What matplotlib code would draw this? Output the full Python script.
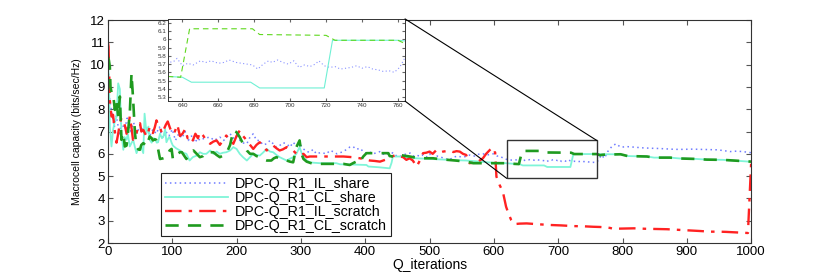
import numpy as np
import matplotlib
matplotlib.use('Agg')
from matplotlib import pyplot as plt
from matplotlib.patches import Rectangle, ConnectionPatch
from matplotlib.ticker import FormatStrFormatter

plt.rcParams['font.family'] = ['Liberation Sans', 'DejaVu Sans']

labels = ['DPC-Q_R1_IL_share', 'DPC-Q_R1_CL_share',
          'DPC-Q_R1_IL_scratch', 'DPC-Q_R1_CL_scratch']

# IL_share (azul punteado)
il_share_x = [0, 1.5, 5, 10, 13, 18, 21, 26, 30, 35, 40, 45, 50, 55, 60, 65, 70, 75, 80, 85,
              90, 95, 100, 105, 110, 115, 120, 125, 130, 135, 140, 143, 150, 159, 165, 174, 180,
              190, 195, 200, 208, 216, 220, 226, 231, 236, 241, 247, 252, 257, 262, 267, 272,
              278, 283, 288, 293, 298, 304, 309, 314, 319, 324, 330, 335, 340, 345, 350, 356,
              361, 366, 371, 376, 381, 386, 392, 397, 402, 407, 412, 418, 423, 428, 433, 438,
              443, 449, 454, 460, 465, 470, 475, 480, 485, 490, 495, 500, 506, 512, 518, 524,
              531, 537, 544, 550, 557, 563, 570, 576, 583, 590, 599, 605, 609, 615, 620, 625,
              632, 635, 637, 640, 643, 646, 650, 653, 656, 660, 663, 666, 670, 673, 676, 679,
              682, 685, 688, 690, 693, 696, 699, 702, 705, 708, 711, 714, 716, 719, 722, 725,
              728, 731, 734, 737, 740, 743, 746, 749, 752, 755, 758, 761, 764, 767, 772, 777,
              784, 790, 797, 808, 818, 830, 844, 856, 869, 882, 895, 908, 920, 933, 946, 956,
              967, 977, 987, 997, 1000]
il_share_y = [12.0, 8.7, 8.0, 7.2, 7.7, 6.9, 7.4, 7.1, 7.6, 7.0, 7.4, 6.9, 7.3, 7.0, 7.2, 6.8,
              7.1, 6.9, 7.2, 6.7, 7.0, 6.8, 7.1, 6.6, 6.9, 6.7, 7.0, 6.6, 6.8, 6.5, 6.7, 6.6,
              6.7, 6.75, 6.6, 6.75, 6.6, 6.9, 6.7, 6.82, 6.5, 6.45, 6.7, 6.9, 6.6, 6.6, 6.4,
              6.45, 6.6, 6.45, 6.3, 6.37, 6.5, 6.45, 6.3, 6.52, 6.35, 6.45, 6.22, 6.1, 6.07,
              6.2, 6.0, 6.05, 6.03, 6.0, 6.15, 6.1, 6.0, 6.05, 6.1, 6.2, 6.3, 6.33, 6.2, 6.25,
              6.1, 6.03, 6.08, 6.0, 6.05, 6.1, 5.98, 6.0, 5.95, 6.05, 5.9, 5.88, 5.95, 6.02,
              6.03, 5.9, 5.95, 5.88, 5.95, 5.85, 6.0, 5.8, 5.9, 5.85, 5.78, 5.73, 5.85, 5.9,
              5.85, 5.88, 5.95, 5.9, 5.98, 6.0, 5.95, 6.0, 5.9, 5.9, 5.8, 5.75, 5.72,
              5.72, 5.73, 5.77, 5.68, 5.71, 5.69, 5.74, 5.72, 5.74, 5.71, 5.72, 5.75, 5.72,
              5.71, 5.70, 5.69, 5.64, 5.70, 5.74, 5.72, 5.75, 5.72, 5.70, 5.74, 5.66, 5.69,
              5.67, 5.70, 5.74, 5.68, 5.66, 5.67, 5.64, 5.65, 5.66, 5.68, 5.65, 5.67, 5.64,
              5.63, 5.61, 5.62, 5.60, 5.66, 5.78, 5.95, 5.8, 6.1, 6.35, 6.45, 6.3, 6.32, 6.3,
              6.27, 6.25, 6.24, 6.22, 6.2, 6.2, 6.21, 6.2, 6.19, 6.18, 6.15, 6.1, 6.12, 6.1,
              6.06, 6.05]

# CL_share (cian continuo)
cl_share_x = [0, 1.5, 3, 5.6, 8, 11, 13.4, 16, 18.6, 21, 24, 26, 29, 31, 34, 37, 39.3, 42, 44.5,
              47, 49.7, 52, 55, 57, 60, 63, 65, 68, 71, 73, 76, 78, 81, 84, 86, 89, 91, 94, 96,
              99, 101, 106, 112, 117, 122, 127, 132, 138, 143, 148, 153, 159, 164, 169, 174,
              179, 184, 190, 195, 200, 205, 210, 216, 221, 226, 231, 236, 241, 247, 252, 257,
              262, 267, 272, 278, 283, 288, 293, 298, 301, 304, 309, 314, 320, 330, 345, 355,
              361, 380, 402, 405, 420, 438, 441, 443, 453, 465, 479, 495, 516, 537, 557, 578,
              599, 619, 632, 640, 645, 678, 683, 719, 723.6, 760, 765, 797, 808, 838, 849, 874,
              890, 915, 931, 956, 972, 997, 1000]
cl_share_y = [9.9, 9.45, 7.22, 6.33, 7.07, 7.5, 7.65, 9.16, 8.9, 6.93, 6.18, 6.75, 6.63, 6.9,
              6.33, 6.5, 6.63, 6.3, 6.03, 6.22, 6.18, 6.3, 6.03, 7.8, 6.93, 7.22, 6.63, 6.5,
              6.7, 6.67, 6.5, 6.52, 6.9, 6.7, 6.75, 7.1, 6.52, 6.7, 6.75, 6.5, 6.37, 6.25,
              6.15, 6.05, 6.0, 5.7, 5.85, 5.92, 6.07, 6.0, 6.0, 6.15, 6.0, 6.1, 6.0, 6.05,
              6.07, 6.15, 6.3, 6.22, 6.0, 5.85, 5.7, 5.85, 6.0, 5.95, 5.92, 6.05, 6.22, 6.1,
              6.07, 5.95, 5.85, 5.78, 5.7, 5.78, 5.85, 6.0, 6.3, 6.05, 5.85, 5.7, 5.62, 5.6,
              5.58, 5.58, 5.58, 5.53, 5.52, 5.5, 5.43, 5.4, 5.35, 5.6, 5.88, 5.88, 5.84, 5.8,
              5.78, 5.75, 5.72, 5.7, 5.65, 5.6, 5.58, 5.55, 5.54, 5.48, 5.48, 5.41, 5.41, 5.99,
              5.99, 5.98, 5.98, 5.9, 5.88, 5.83, 5.83, 5.79, 5.77, 5.74, 5.73, 5.7, 5.65, 5.65]

# IL_scratch (rojo raya-punto)
il_scratch_x = [0, 1, 3, 5.6, 8, 10.8, 13.4, 16, 18.6, 21, 24, 27, 29, 32, 34, 37, 39, 42, 44.5,
                47, 50, 52, 55, 58, 60, 63, 65, 68, 70, 73, 75.5, 78, 81, 84, 87, 90, 93, 96,
                100, 104, 108, 112, 116, 120, 124, 128, 132, 136, 140, 143, 148, 153, 159, 164,
                169, 174, 179, 184, 190, 195, 200, 205, 210, 216, 221, 226, 231, 236, 241, 247,
                252, 257, 262, 267, 272, 278, 283, 288, 293, 298, 304, 309, 314, 320, 330, 345,
                355, 366, 380, 392, 400, 407, 415, 423, 430, 438, 443, 449, 454, 459, 464, 469,
                474, 480, 485, 490, 495, 500, 505, 510, 516, 521, 526, 531, 537, 542, 547, 552,
                557, 562, 568, 573, 578, 583, 588, 594, 597, 599, 602, 604, 609, 614, 619, 623,
                627, 632, 640, 651, 670, 687, 705, 723, 740, 754, 765, 775, 780, 786, 800, 818,
                835, 849, 869, 882, 895, 908, 920, 936, 950, 961, 975, 987, 995, 1000]
il_scratch_y = [11.0, 10.8, 8.4, 7.67, 7.75, 7.0, 6.5, 6.9, 7.37, 7.6, 7.5, 7.2, 6.9, 7.3, 7.67,
                7.1, 6.63, 6.8, 6.93, 7.2, 7.37, 7.0, 7.07, 6.9, 6.78, 7.0, 7.2, 7.0, 6.93, 7.2,
                7.5, 7.3, 7.2, 6.9, 7.1, 7.3, 7.45, 7.2, 6.9, 7.0, 7.3, 6.8, 6.9, 7.1, 6.7, 6.8,
                6.6, 6.9, 6.7, 6.97, 6.82, 6.6, 6.45, 6.55, 6.6, 6.4, 6.6, 6.82, 6.6, 6.45, 6.8,
                7.05, 6.8, 6.6, 6.4, 6.22, 6.4, 6.52, 6.35, 6.15, 6.3, 6.37, 6.25, 6.15, 6.2,
                6.3, 6.2, 6.15, 6.0, 5.92, 6.0, 5.85, 5.88, 5.88, 5.88, 5.88, 5.88, 5.88, 5.85,
                5.8, 5.75, 5.7, 5.68, 5.65, 5.72, 5.8, 5.9, 5.95, 5.88, 5.85, 5.73, 5.8, 5.7,
                5.43, 5.7, 6.03, 6.05, 6.1, 6.0, 6.15, 6.05, 6.1, 6.12, 6.15, 6.08, 6.12, 6.1,
                6.0, 5.95, 5.58, 5.6, 5.58, 5.7, 5.8, 6.0, 6.18, 6.25, 6.05, 6.07, 4.98, 4.6,
                4.3, 3.63, 3.3, 3.03, 2.85, 2.87, 2.88, 2.84, 2.81, 2.79, 2.76, 2.75, 2.73, 2.72,
                2.7, 2.68, 2.64, 2.65, 2.66, 2.64, 2.63, 2.62, 2.6, 2.58, 2.56, 2.54, 2.51, 2.51,
                2.5, 2.48, 2.46, 2.45, 5.6]

# CL_scratch (verde discontinuo)
cl_scratch_x = [0, 1.5, 3, 4, 6, 8, 10.8, 13.4, 16, 18.6, 21, 24, 26.3, 29, 31, 34, 36.7, 39.3,
                42, 44.5, 47, 49.7, 52, 55, 58, 60, 63, 65, 68, 70, 73, 75, 78, 81, 86, 91, 96,
                99, 101, 104, 108, 112, 115, 119, 122, 127, 133, 138, 143, 148, 153, 159, 164,
                169, 174, 179, 184, 190, 195, 200, 205, 210, 216, 221, 226, 231, 236, 241, 247,
                254, 258, 262, 267, 272, 278, 283, 288, 293, 298, 301, 304, 309, 314, 319, 330,
                345, 355, 366, 376, 381, 386, 389, 392, 397, 402, 410, 420, 430, 436, 438, 443,
                453, 469, 484, 505, 520, 540, 557, 568, 585, 600, 619, 632, 639, 644, 679, 683,
                720, 725, 760, 765, 770, 797, 808, 838, 849, 874, 890, 915, 931, 956, 972, 997,
                1000]
cl_scratch_y = [10.35, 10.2, 9.9, 9.0, 8.7, 8.7, 7.97, 8.4, 7.67, 8.57, 6.63, 6.93, 6.33, 6.37,
                6.9, 7.8, 9.6, 8.4, 6.93, 6.33, 6.2, 6.18, 6.4, 6.48, 6.4, 6.33, 6.6, 6.78, 6.7,
                6.6, 6.65, 6.63, 6.22, 5.77, 5.8, 5.85, 6.15, 6.22, 5.77, 5.8, 6.0, 6.07, 6.07,
                5.9, 5.77, 6.0, 6.15, 6.0, 5.85, 5.9, 6.07, 6.07, 6.07, 5.95, 5.85, 5.92, 6.0,
                6.4, 7.05, 6.97, 6.75, 6.45, 6.15, 6.0, 6.0, 5.9, 5.85, 5.75, 5.7, 5.7, 5.8,
                5.85, 5.78, 5.72, 5.7, 5.65, 5.62, 6.3, 6.6, 6.0, 5.77, 5.65, 5.6, 5.55, 5.55,
                5.55, 5.55, 5.55, 5.5, 5.58, 5.65, 5.73, 5.65, 5.88, 6.03, 6.03, 6.03, 6.03,
                6.03, 5.9, 5.88, 5.95, 5.88, 5.8, 5.8, 5.75, 5.7, 5.65, 5.58, 5.58, 5.58, 5.58,
                5.55, 5.54, 6.13, 6.13, 6.06, 6.05, 5.99, 5.99, 5.94, 5.96, 5.98, 5.9, 5.88,
                5.83, 5.83, 5.79, 5.77, 5.74, 5.73, 5.7, 5.65, 5.65]

# Zona ampliada
zoom_x0, zoom_x1 = 620, 760
zoom_y0, zoom_y1 = 4.9, 6.6

fig = plt.figure(figsize=(8.3, 2.74), dpi=100)
ax = fig.add_axes([0.130, 0.113, 0.775, 0.814])

estilos = [
    dict(color='#6f7cff', linestyle=(0, (1, 2.2)), linewidth=1.1),
    dict(color='#7ff5d8', linestyle='-', linewidth=1.3),
    dict(color='#ff2222', linestyle=(0, (7, 3, 1.5, 3)), linewidth=1.7),
    dict(color='#1f9a1f', linestyle=(0, (5, 3.5)), linewidth=1.9),
]
series = [(il_share_x, il_share_y), (cl_share_x, cl_share_y),
          (il_scratch_x, il_scratch_y), (cl_scratch_x, cl_scratch_y)]

for (x, y), est, lab in zip(series, estilos, labels):
    ax.plot(x, y, label=lab, **est)

ax.set_xlim(0, 1000)
ax.set_ylim(2, 12)
ax.set_xticks(np.arange(0, 1001, 100))
ax.set_yticks(np.arange(2, 13, 1))
ax.tick_params(direction='in', length=3.5, top=True, right=True, labelsize=9.5,
               color='#555555', pad=2)
for s in ax.spines.values():
    s.set_color('#333333')
    s.set_linewidth(0.8)
ax.set_xlabel('Q_iterations', fontsize=10, labelpad=0)
ax.set_ylabel('Macrocell capacity (bits/sec/Hz)', fontsize=7.5, labelpad=6)

leg = ax.legend(loc='lower left', bbox_to_anchor=(0.083, 0.03), borderaxespad=0,
                fontsize=10.3, handlelength=4.4, handletextpad=0.5, labelspacing=0.0,
                borderpad=0.25, fancybox=False, framealpha=1, edgecolor='#222222')
leg.get_frame().set_linewidth(0.8)

rect = Rectangle((zoom_x0, zoom_y0), zoom_x1 - zoom_x0, zoom_y1 - zoom_y0, fill=False,
                 edgecolor='#333333', linewidth=1.0, zorder=5)
ax.add_patch(rect)

# Inset
axins = fig.add_axes([0.2025, 0.631, 0.2855, 0.300])
colores_ins = ['#8a93ff', '#6ff0d4', '#ff2222', '#5fd81f']
for (x, y), est, c in zip(series, estilos, colores_ins):
    axins.plot(x, y, color=c, linestyle=est['linestyle'], linewidth=0.8)
axins.set_xlim(632, 764)
axins.set_ylim(5.25, 6.25)
axins.set_xticks(np.arange(640, 761, 20))
axins.set_yticks(np.arange(5.3, 6.25, 0.1))
axins.yaxis.set_major_formatter(FormatStrFormatter('%g'))
axins.tick_params(direction='in', length=2, labelsize=4.5, color='#666666',
                  labelcolor='#333333', pad=1.5, top=True, right=True)
for s in axins.spines.values():
    s.set_color('#333333')
    s.set_linewidth(0.7)

con1 = ConnectionPatch(xyA=(1, 1), coordsA=axins.transAxes, xyB=(zoom_x1, zoom_y1),
                       coordsB=ax.transData, color='black', linewidth=0.8)
con2 = ConnectionPatch(xyA=(1, 0), coordsA=axins.transAxes, xyB=(zoom_x0, zoom_y0),
                       coordsB=ax.transData, color='black', linewidth=0.8)
fig.add_artist(con1)
fig.add_artist(con2)

plt.savefig('out.png', dpi=100)
